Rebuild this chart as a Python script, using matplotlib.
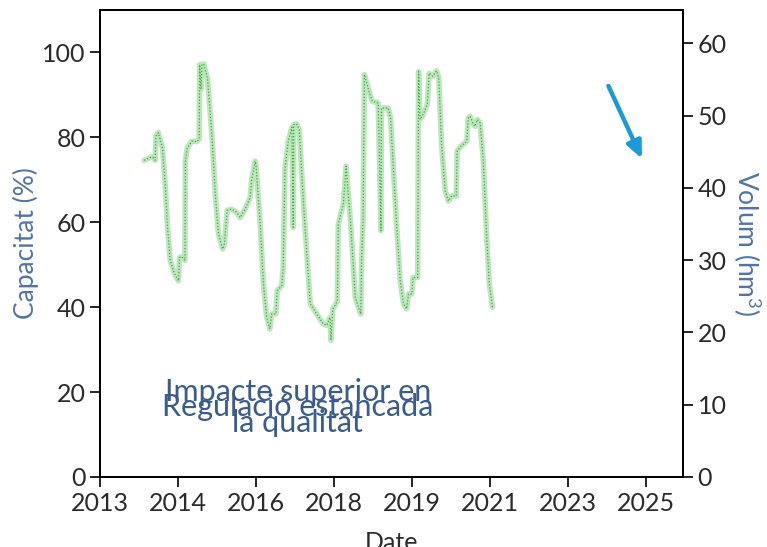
import matplotlib

matplotlib.use("Agg")
import matplotlib.pyplot as plt

# fractional years and reservoir capacity (%)
years = [
    2014.11, 2014.28, 2014.33, 2014.35, 2014.37, 2014.42, 2014.51, 2014.57, 2014.62, 2014.68,
    2014.77, 2014.86, 2014.88, 2014.93, 2015.00, 2015.01, 2015.05, 2015.15, 2015.26, 2015.31,
    2015.32, 2015.35, 2015.37, 2015.41, 2015.49, 2015.55, 2015.60, 2015.66, 2015.73, 2015.82,
    2015.86, 2015.92, 2016.02, 2016.13, 2016.20, 2016.31, 2016.42, 2016.45, 2016.53, 2016.55,
    2016.64, 2016.71, 2016.78, 2016.85, 2016.89, 2016.98, 2017.01, 2017.11, 2017.14, 2017.18,
    2017.25, 2017.33, 2017.36, 2017.37, 2017.43, 2017.49, 2017.58, 2017.65, 2017.73, 2017.87,
    2018.01, 2018.09, 2018.16, 2018.18, 2018.22, 2018.27, 2018.32, 2018.34, 2018.45, 2018.51,
    2018.60, 2018.67, 2018.71, 2018.78, 2018.83, 2018.85, 2018.88, 2018.91, 2018.96, 2019.01,
    2019.08, 2019.21, 2019.27, 2019.28, 2019.43, 2019.48, 2019.54, 2019.61, 2019.69, 2019.76,
    2019.83, 2019.87, 2019.94, 2019.97, 2020.07, 2020.09, 2020.12, 2020.19, 2020.28, 2020.32,
    2020.40, 2020.48, 2020.53, 2020.59, 2020.67, 2020.74, 2020.81, 2020.91, 2020.93, 2021.01,
    2021.14, 2021.17, 2021.21, 2021.28, 2021.32, 2021.37, 2021.43, 2021.50, 2021.57, 2021.63,
    2021.70,
]
capacity = [
    74.6, 75.4, 75.0, 74.6, 80.3, 81.1, 77.5, 69.0, 58.8, 51.0,
    47.9, 46.2, 51.7, 51.9, 51.0, 74.4, 77.5, 79.1, 79.0, 79.6,
    97.1, 91.3, 97.0, 97.3, 94.0, 85.8, 78.3, 66.7, 57.3, 53.7,
    54.9, 62.8, 63.1, 62.3, 61.1, 63.1, 65.8, 69.7, 74.4, 73.2,
    59.6, 45.5, 37.6, 34.9, 38.4, 38.4, 43.9, 45.1, 49.4, 72.8,
    79.1, 82.4, 58.8, 83.0, 83.2, 81.8, 65.0, 53.3, 40.8, 38.4,
    36.1, 35.7, 37.6, 32.2, 39.5, 40.4, 41.5, 59.5, 64.3, 73.2,
    61.1, 49.4, 42.3, 40.0, 38.4, 51.7, 60.3, 94.8, 92.8, 90.8,
    88.5, 88.1, 58.0, 86.9, 86.9, 84.5, 72.8, 59.5, 46.2, 40.8,
    39.6, 43.1, 43.1, 47.0, 47.0, 95.5, 84.2, 85.4, 87.8, 95.1,
    94.4, 95.7, 94.0, 78.3, 67.4, 65.0, 66.2, 66.2, 76.8, 77.9,
    79.1, 84.5, 85.0, 83.1, 82.6, 84.2, 83.4, 74.4, 57.2, 45.5,
    40.0,
]

xticks = [2013.15, 2014.85, 2016.55, 2018.25, 2019.95, 2021.65, 2023.35, 2025.05]
xtick_labels = ["2013", "2014", "2016", "2018", "2019", "2021", "2023", "2025"]
left_ticks = [0, 20, 40, 60, 80, 100]
right_ticks = [0, 10, 20, 30, 40, 50, 60]

label_blue = "#5075a3"
note_blue = "#3a5c8c"
tick_color = "#2b2b2b"

plt.rcParams["font.family"] = ["Lato", "Open Sans", "DejaVu Sans"]
plt.rcParams["mathtext.default"] = "regular"

fig = plt.figure(figsize=(7.67, 5.47), dpi=100)
ax = fig.add_axes([0.1304, 0.128, 0.7601, 0.8537])

ax.plot(years, capacity, color="#bde6bd", lw=4, solid_capstyle="round", zorder=2)
ax.plot(years, capacity, color="#3aa83a", lw=0.9, ls=(0, (1, 1.5)), zorder=3)

ax.set_xlim(2013.15, 2025.85)
ax.set_ylim(0, 110)
ax.set_xticks(xticks)
ax.set_xticklabels(xtick_labels)
ax.set_yticks(left_ticks)
ax.set_ylabel("Capacitat (%)", color=label_blue, fontsize=19, labelpad=2)
ax.set_xlabel("Date", fontsize=18, labelpad=12, color=tick_color)

ax2 = ax.twinx()
ax2.set_ylim(0, 64.6)
ax2.set_yticks(right_ticks)
ax2.set_ylabel("Volum (hm$^3$)", color=label_blue, fontsize=19, rotation=270, labelpad=26)

for a in (ax, ax2):
    a.tick_params(labelsize=18, length=7, width=1.2, colors="black", labelcolor=tick_color)
    for s in a.spines.values():
        s.set_linewidth(1.4)

ax.text(2017.46, 16.4, "Impacte superior en\nla qualitat", ha="center", va="center",
        fontsize=22, color=note_blue, linespacing=1.15)
ax.text(2017.46, 16.4, "Regulació estancada", ha="center", va="center",
        fontsize=22, color=note_blue)

ax.annotate("", xy=(2024.98, 74.4), xytext=(2024.2, 92.7),
            arrowprops=dict(arrowstyle="-|>,head_width=0.45,head_length=1.0",
                            color="#1a9ad6", lw=3.2))

fig.savefig("out.png", dpi=100)
